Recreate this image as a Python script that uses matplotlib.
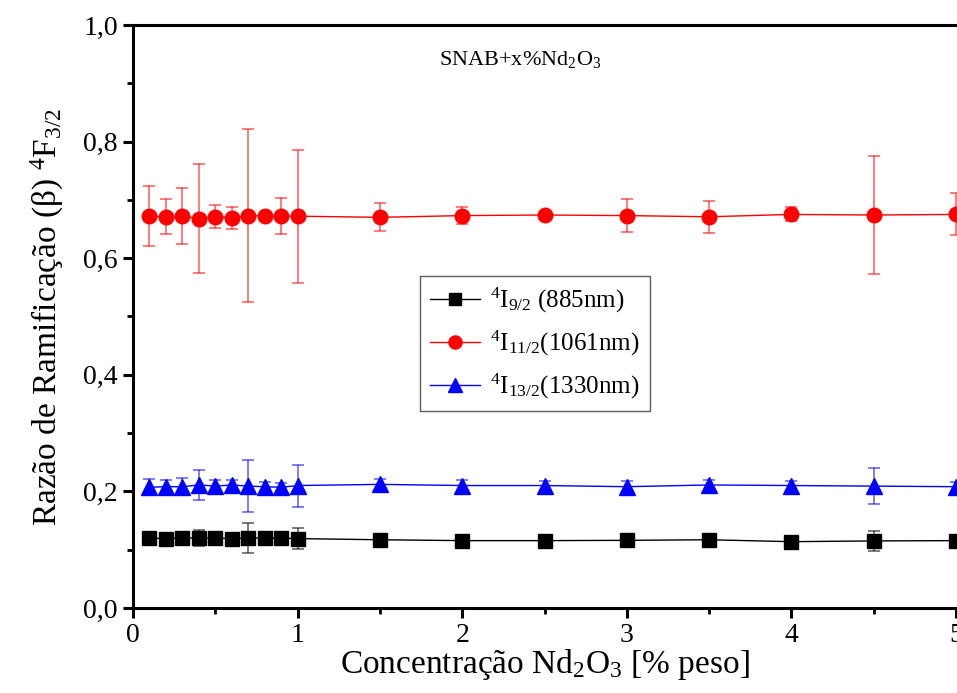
import numpy as np
import matplotlib
matplotlib.use("Agg")
import matplotlib.pyplot as plt
from matplotlib.lines import Line2D
from matplotlib.ticker import MultipleLocator, FuncFormatter

plt.rcParams['font.family'] = ['Liberation Serif', 'DejaVu Serif']
plt.rcParams['mathtext.fontset'] = 'custom'
plt.rcParams['mathtext.rm'] = 'Liberation Serif'
plt.rcParams['mathtext.it'] = 'Liberation Serif:italic'
plt.rcParams['mathtext.bf'] = 'Liberation Serif:bold'

# concentration of Nd2O3 (% weight)
conc = [0.1, 0.2, 0.3, 0.4, 0.5, 0.6, 0.7, 0.8, 0.9, 1.0,
        1.5, 2.0, 2.5, 3.0, 3.5, 4.0, 4.5, 5.0]

# 4I9/2 (885 nm)
b885 = [0.120, 0.119, 0.120, 0.120, 0.120, 0.119, 0.120, 0.120, 0.120, 0.119,
        0.117, 0.1155, 0.1155, 0.116, 0.117, 0.1137, 0.115, 0.1155]
e885 = [0.004, 0.004, 0.004, 0.014, 0.004, 0.003, 0.026, 0.004, 0.004, 0.018,
        0.003, 0.003, 0.003, 0.003, 0.004, 0.003, 0.017, 0.003]

# 4I11/2 (1061 nm)
b1061 = [0.672, 0.671, 0.672, 0.668, 0.671, 0.669, 0.673, 0.672, 0.672, 0.672,
         0.670, 0.673, 0.674, 0.673, 0.671, 0.675, 0.674, 0.675]
e1061 = [0.052, 0.030, 0.048, 0.093, 0.020, 0.019, 0.149, 0.005, 0.031, 0.114,
         0.024, 0.015, 0.004, 0.028, 0.027, 0.012, 0.101, 0.036]

# 4I13/2 (1330 nm)
b1330 = [0.207, 0.208, 0.208, 0.211, 0.209, 0.211, 0.209, 0.208, 0.207, 0.210,
         0.212, 0.210, 0.210, 0.208, 0.211, 0.210, 0.209, 0.208]
e1330 = [0.014, 0.011, 0.015, 0.025, 0.011, 0.009, 0.044, 0.008, 0.008, 0.036,
         0.009, 0.009, 0.008, 0.009, 0.008, 0.007, 0.031, 0.008]

fig = plt.figure(figsize=(9.57, 6.93), dpi=100)
ax = fig.add_axes([0.139, 0.1227, 0.860, 0.8413])

series = [
    (b885, e885, 'black', 's', 9.5, r'$^{4}$I$_{9/2}$ (885nm)'),
    (b1061, e1061, 'red', 'o', 10.5, r'$^{4}$I$_{11/2}$(1061nm)'),
    (b1330, e1330, 'blue', '^', 11, r'$^{4}$I$_{13/2}$(1330nm)'),
]
handles = []
for vals, errs, col, mk, ms, lab in series:
    ax.errorbar(conc, vals, yerr=errs, color=col, marker=mk, markersize=ms,
                linewidth=1.0, elinewidth=1.2, capsize=4, capthick=1.2,
                ecolor=matplotlib.colors.to_rgba(col, 0.6),
                clip_on=False, zorder=3)
    handles.append(Line2D([], [], color=col, marker=mk, markersize=ms * 0.9,
                          linewidth=1.0, label=lab))

ax.set_xlim(0, 5)
ax.set_ylim(0, 1.0)
ax.xaxis.set_major_locator(MultipleLocator(1))
ax.xaxis.set_minor_locator(MultipleLocator(0.5))
ax.yaxis.set_major_locator(MultipleLocator(0.2))
ax.yaxis.set_minor_locator(MultipleLocator(0.1))
ax.yaxis.set_major_formatter(FuncFormatter(lambda v, p: ('%.1f' % v).replace('.', ',')))

for s in ['left', 'bottom', 'top']:
    ax.spines[s].set_linewidth(2.2)
ax.spines['right'].set_visible(False)
ax.tick_params(which='major', direction='out', length=7, width=2.2, labelsize=20,
               top=False, right=False, pad=4)
ax.tick_params(which='minor', direction='out', length=4, width=2.0, top=False, right=False)

ax.set_xlabel(r'Concentração Nd$_{2}$O$_{3}$ [% peso]', fontsize=24, labelpad=-1)
ax.set_ylabel(r'Razão de Ramificação (β) $^{4}$F$_{3/2}$', fontsize=24, labelpad=12)

ax.text(0.47, 0.94, r'SNAB+x%Nd$_{2}$O$_{3}$', transform=ax.transAxes,
        fontsize=16, ha='center', va='center')

leg = ax.legend(handles=handles, loc='upper left', bbox_to_anchor=(0.349, 0.569),
                fontsize=18, frameon=True, fancybox=False, edgecolor='#333333',
                handlelength=2.0, borderpad=0.4, labelspacing=0.55,
                handletextpad=0.4, borderaxespad=0)
leg.get_frame().set_linewidth(1.0)

fig.savefig('out.png', dpi=100)
